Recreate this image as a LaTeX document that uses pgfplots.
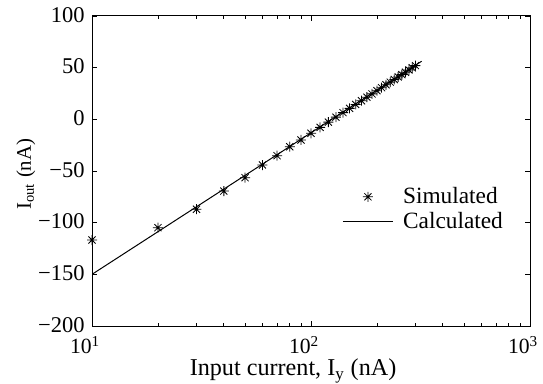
\documentclass[border=0pt]{standalone}
\usepackage{pgfplots}
\pgfplotsset{compat=1.18}
\usepackage{fontspec}
\setmainfont{Liberation Serif}
\pgfdeclareplotmark{mstar}{%
  \pgfpathmoveto{\pgfqpoint{-\pgfplotmarksize}{0pt}}\pgfpathlineto{\pgfqpoint{\pgfplotmarksize}{0pt}}%
  \pgfpathmoveto{\pgfqpoint{0pt}{-\pgfplotmarksize}}\pgfpathlineto{\pgfqpoint{0pt}{\pgfplotmarksize}}%
  \pgfpathmoveto{\pgfqpoint{-0.707\pgfplotmarksize}{-0.707\pgfplotmarksize}}\pgfpathlineto{\pgfqpoint{0.707\pgfplotmarksize}{0.707\pgfplotmarksize}}%
  \pgfpathmoveto{\pgfqpoint{-0.707\pgfplotmarksize}{0.707\pgfplotmarksize}}\pgfpathlineto{\pgfqpoint{0.707\pgfplotmarksize}{-0.707\pgfplotmarksize}}%
  \pgfusepathqstroke}
\pgfplotsset{
  legstar/.style={legend image code/.code={\draw[##1] plot coordinates {(15pt,0pt)};}},
  legline/.style={legend image code/.code={\draw[##1] (0pt,0pt) -- (30pt,0pt);}},
}
\begin{document}
\begin{tikzpicture}
\begin{axis}[
  name=ax,
  scale only axis,
  width=262.8pt, height=186pt,
  xmode=log,
  xmin=10, xmax=1000,
  ymin=-200, ymax=100,
  xtick={10,100,1000},
  xticklabels={10\rlap{\textsuperscript{1}},10\rlap{\textsuperscript{2}},10\rlap{\textsuperscript{3}}},
  xticklabel style={anchor=north east, inner sep=0pt, yshift=-5.8pt, font=\fontsize{13}{14}\selectfont},
  ytick={-200,-150,-100,-50,0,50,100},
  yticklabels={−200,−150,−100,−50,0,50,100},
  yticklabel style={anchor=east, inner sep=0pt, xshift=-4.2pt, yshift=0.8pt, font=\fontsize{13.5}{15}\selectfont},
  tick align=inside,
  major tick length=3pt,
  minor tick length=2pt,
  axis line style={line width=0.6pt},
  every tick/.style={black, line width=0.5pt},
  xlabel={Input current, I\textsubscript{y} (nA)},
  ylabel={I\textsubscript{out} (nA)},
  xlabel style={at={(axis description cs:0.459,-0.16)}, anchor=base, inner sep=0pt, font=\fontsize{14.5}{16}\selectfont},
  ylabel style={at={(axis description cs:-0.1393,0.49)}, anchor=base, inner sep=0pt, font=\fontsize{12.5}{14}\selectfont},
  legend style={at={(0.571,0.377)}, anchor=west, draw=none, fill=none, inner sep=0pt,
    font=\fontsize{14}{16}\selectfont, row sep=0pt, column sep=4pt,
    nodes={inner sep=1.8pt}},
  legend cell align=left,
]
\addplot[only marks, mark=mstar, mark size=3pt, black, line width=0.5pt, legstar]
coordinates {
(10,-116.8) (20,-104.9) (30,-87.0) (40,-69.4) (50,-56.5) (60,-44.2) (70,-35.2)
(80,-26.5) (90,-20.0) (100,-13.5) (110,-7.8) (120,-2.7) (130,2.1) (140,6.5)
(150,10.6) (160,14.4) (170,18.0) (180,21.4) (190,24.6) (200,27.7) (210,30.6)
(220,33.4) (230,36.0) (240,38.6) (250,41.0) (260,43.3) (270,45.6) (280,47.8)
(290,49.9) (300,52.0)
};
\addlegendentry{Simulated}
\addplot[black, line width=0.6pt, no marks, legline]
coordinates {
(10,-150) (20,-108.76) (30,-84.63) (40,-67.52) (50,-54.24) (60,-43.39) (70,-34.22)
(80,-26.28) (90,-19.27) (100,-13.0) (110,-7.33) (120,-2.15) (130,2.61) (140,7.02)
(150,11.12) (160,14.96) (170,18.57) (180,21.97) (190,25.19) (200,28.24) (210,31.14)
(220,33.91) (230,36.56) (240,39.09) (250,41.52) (260,43.85) (270,46.10) (280,48.26)
(290,50.35) (300,52.37) (310,54.32) (320,56.22)
};
\addlegendentry{Calculated}
\end{axis}
\pgfresetboundingbox
\path ([xshift=-55.2pt,yshift=-34.2pt]ax.south west) rectangle ([xshift=7.8pt,yshift=9.6pt]ax.north east);
\end{tikzpicture}
\end{document}
